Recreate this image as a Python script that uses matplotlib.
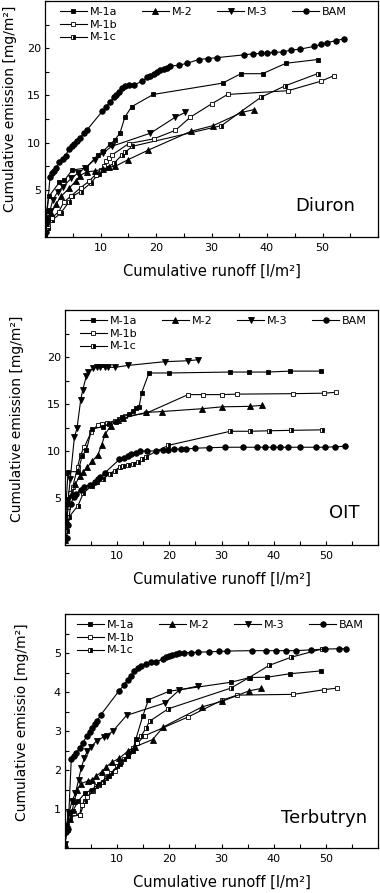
import matplotlib
matplotlib.use("Agg")
import matplotlib.pyplot as plt
from matplotlib.lines import Line2D
from matplotlib.ticker import MultipleLocator

# ---------------- data ----------------
series_names = ["M-1a", "M-2", "M-3", "BAM", "M-1b", "M-1c"]
x_ticks = [10, 20, 30, 40, 50]

# Diuron
diu_m1a_x = [0, 0.3, 0.7, 2.6, 3.5, 4.9, 7.4, 9.5, 10.5, 11.7, 12.6, 13.5, 14.4, 15.6, 19.5, 32, 35.3, 39.2, 43.4, 49.1]
diu_m1a_y = [0.3, 2.8, 4.3, 5.8, 6.0, 7.1, 7.3, 8.7, 9.1, 9.8, 10.3, 11.0, 12.7, 13.8, 15.1, 16.3, 17.3, 17.3, 18.4, 18.8]
diu_m2_x = [0, 0.2, 1.1, 2.0, 2.9, 4.4, 5.5, 6.3, 7.5, 9.0, 10.5, 11.5, 12.7, 15.0, 18.6, 26.3, 30.3, 35.5, 37.7]
diu_m2_y = [0, 1.5, 2.5, 3.5, 4.3, 5.2, 5.9, 6.5, 6.9, 7.0, 7.2, 7.4, 7.5, 8.2, 9.2, 11.2, 11.8, 13.2, 13.5]
diu_m3_x = [0, 0.4, 0.9, 1.4, 2.3, 3.2, 4.7, 6.0, 7.2, 9.0, 10.5, 12.0, 19.0, 23.5, 25.3]
diu_m3_y = [0.2, 1.5, 2.8, 3.9, 4.8, 5.3, 6.2, 6.8, 7.3, 8.2, 8.9, 9.6, 11.0, 12.7, 13.2]
diu_bam_x = [0.1, 0.3, 0.9, 1.2, 1.6, 2.0, 2.5, 3.2, 3.7, 4.3, 4.8, 5.3, 5.8, 6.3, 7.0, 7.5, 10.3, 11.0,
             11.7, 12.4, 12.8, 13.4, 13.9, 14.5, 15.2, 16.0, 17.5, 18.4, 19.0, 19.6, 20.2, 20.8, 21.4, 22.0,
             22.6, 24.1, 25.6, 27.7, 29.3, 31.0, 35.9, 37.4, 38.9, 40.0, 41.2, 42.8, 44.3, 46.0, 48.5, 49.7,
             50.9, 52.4, 53.9]
diu_bam_y = [0.5, 2.0, 6.4, 6.8, 7.0, 7.3, 7.9, 8.3, 8.6, 9.3, 9.6, 9.9, 10.2, 10.5, 11.0, 11.3, 13.3, 13.8,
             14.3, 14.8, 15.0, 15.4, 15.8, 16.0, 16.1, 16.1, 16.5, 16.9, 17.1, 17.3, 17.5, 17.7, 17.8, 17.95,
             18.1, 18.2, 18.4, 18.8, 18.9, 19.0, 19.3, 19.4, 19.45, 19.5, 19.55, 19.6, 19.8, 19.9, 20.2, 20.4,
             20.6, 20.8, 21.0]
diu_m1b_x = [0, 0.5, 1.2, 2.5, 3.4, 4.6, 6.4, 7.9, 9.1, 10.0, 10.6, 11.0, 11.5, 12.1, 15.1, 19.6, 23.5, 26.2, 30.0, 32.9, 43.8, 49.7, 52.1]
diu_m1b_y = [0.2, 1.2, 2.0, 2.7, 3.7, 4.3, 5.2, 5.9, 6.6, 7.1, 7.5, 8.0, 8.4, 8.7, 9.9, 10.4, 11.3, 12.7, 14.1, 15.1, 15.5, 16.5, 17.1]
diu_m1c_x = [0, 0.5, 1.3, 2.8, 4.3, 4.9, 6.4, 8.2, 9.7, 10.9, 12.4, 13.9, 14.5, 15.7, 31.8, 38.9, 43.2, 49.1]
diu_m1c_y = [0.1, 1.0, 1.8, 2.5, 3.7, 4.3, 4.8, 5.7, 6.7, 7.3, 7.8, 8.7, 9.0, 9.6, 11.8, 14.8, 16.0, 17.3]

# OIT
oit_m1a_x = [0, 0.2, 0.6, 2.5, 3.3, 4.1, 5.1, 7.2, 8.5, 9.8, 11.0, 12.3, 13.1, 13.6, 14.2, 14.7, 16.1, 19.9, 31.7, 35.2, 38.9, 43.2, 49.1]
oit_m1a_y = [0.8, 4.5, 7.8, 7.8, 9.5, 10.1, 12.3, 12.6, 12.9, 13.1, 13.6, 13.9, 14.3, 14.6, 14.7, 16.2, 18.3, 18.3, 18.4, 18.4, 18.4, 18.5, 18.5]
oit_m2_x = [0, 0.3, 0.7, 1.4, 2.0, 2.8, 3.5, 4.3, 5.2, 6.3, 7.0, 7.7, 8.8, 10.1, 11.2, 15.5, 18.6, 26.3, 30.1, 35.4, 37.7]
oit_m2_y = [0.5, 2.5, 4.5, 5.5, 6.5, 7.3, 7.8, 8.3, 8.9, 9.6, 10.6, 11.8, 12.7, 13.3, 13.5, 14.1, 14.2, 14.5, 14.7, 14.75, 14.85]
oit_m3_x = [0, 0.2, 0.6, 1.0, 1.8, 2.3, 3.0, 3.4, 4.1, 4.5, 5.4, 6.1, 6.8, 7.6, 8.3, 9.6, 12.0, 19.1, 23.5, 25.4]
oit_m3_y = [0.5, 2.5, 4.8, 7.0, 11.5, 12.4, 15.4, 16.5, 18.0, 18.4, 18.8, 18.9, 18.9, 18.9, 18.9, 18.9, 19.1, 19.5, 19.6, 19.7]
oit_bam_x = [0.3, 0.6, 1.1, 1.7, 2.2, 3.0, 3.7, 4.8, 5.7, 6.3, 6.7, 7.7, 10.4, 11.4, 12.0, 12.6, 13.6, 14.4, 15.8,
             17.4, 18.7, 19.7, 20.9, 22.2, 23.1, 25.0, 27.6, 30.7, 34.2, 36.8, 38.4, 39.9, 41.2, 42.8, 45.0,
             48.2, 49.8, 51.7, 53.6]
oit_bam_y = [0.7, 2.1, 4.4, 5.1, 5.4, 5.9, 6.2, 6.4, 6.7, 7.0, 7.2, 7.7, 9.1, 9.3, 9.5, 9.7, 9.8, 10.0, 10.0,
             10.0, 10.1, 10.14, 10.2, 10.2, 10.2, 10.3, 10.35, 10.4, 10.4, 10.4, 10.4, 10.4, 10.4, 10.4, 10.4,
             10.4, 10.4, 10.45, 10.5]
oit_m1b_x = [0, 0.2, 0.5, 1.0, 1.5, 2.4, 3.0, 3.7, 5.0, 6.3, 7.0, 8.0, 9.5, 10.4, 11.5, 15.5, 23.6, 26.5, 30.1, 33.0, 43.8, 49.7, 52.0]
oit_m1b_y = [0.5, 2.0, 4.0, 5.5, 6.2, 8.3, 9.6, 10.4, 12.0, 12.8, 12.9, 13.0, 13.2, 13.4, 13.7, 14.0, 16.0, 16.0, 16.0, 16.05, 16.1, 16.15, 16.25]
oit_m1c_x = [0, 0.3, 0.8, 2.5, 3.5, 5.1, 6.2, 7.3, 8.6, 9.5, 10.5, 11.1, 12.0, 13.0, 13.9, 14.8, 15.5, 19.8, 31.7, 35.4, 39.1, 43.4, 49.3]
oit_m1c_y = [0.5, 1.5, 3.0, 4.2, 5.5, 6.3, 6.7, 7.0, 7.6, 7.9, 8.3, 8.4, 8.5, 8.65, 8.8, 9.1, 9.4, 10.6, 12.1, 12.1, 12.15, 12.2, 12.25]

# Terbutryn
ter_m1a_x = [0, 0.3, 0.7, 1.5, 2.5, 3.8, 5.2, 6.5, 8.5, 10.5, 12.0, 13.0, 13.6, 14.9, 16.0, 20.0, 31.8, 35.4, 38.8, 43.2, 49.0]
ter_m1a_y = [0.1, 0.6, 0.9, 0.95, 1.2, 1.4, 1.5, 1.65, 1.85, 2.15, 2.35, 2.5, 2.8, 3.38, 3.8, 4.02, 4.25, 4.37, 4.38, 4.47, 4.54]
ter_m2_x = [0, 0.4, 1.0, 1.8, 2.3, 3.1, 4.4, 5.2, 6.0, 7.0, 7.9, 9.0, 10.4, 12.0, 13.5, 16.8, 18.8, 26.3, 30.1, 35.3, 37.6]
ter_m2_y = [0.1, 0.5, 0.75, 1.2, 1.5, 1.65, 1.72, 1.75, 1.85, 1.95, 2.08, 2.2, 2.3, 2.48, 2.6, 2.78, 3.1, 3.62, 3.76, 4.03, 4.09]
ter_m3_x = [0, 0.3, 0.8, 1.3, 2.0, 2.6, 3.1, 3.7, 4.3, 5.0, 6.1, 7.4, 8.0, 9.2, 11.8, 19.2, 21.9, 25.4]
ter_m3_y = [0.1, 0.5, 0.9, 1.2, 1.4, 1.75, 2.05, 2.3, 2.5, 2.6, 2.75, 2.85, 2.88, 3.0, 3.4, 3.72, 4.05, 4.15]
ter_bam_x = [0.25, 0.6, 1.2, 1.7, 2.2, 2.8, 3.4, 4.2, 4.7, 5.2, 5.7, 6.1, 6.9, 10.3, 11.4, 12.0, 12.7, 13.3, 13.9,
             14.6, 15.5, 16.5, 17.5, 18.7, 19.4, 20.0, 20.6, 21.3, 21.9, 22.9, 24.1, 25.4, 27.6, 29.6, 31.1,
             35.9, 38.5, 40.4, 42.3, 44.2, 47.1, 49.9, 52.5, 53.8]
ter_bam_y = [0.4, 0.5, 2.27, 2.36, 2.44, 2.57, 2.7, 2.87, 2.97, 3.08, 3.17, 3.25, 3.42, 4.02, 4.19, 4.31, 4.42,
             4.53, 4.61, 4.67, 4.72, 4.76, 4.78, 4.84, 4.89, 4.93, 4.95, 4.98, 5.0, 5.01, 5.01, 5.02, 5.03,
             5.04, 5.05, 5.06, 5.06, 5.06, 5.06, 5.06, 5.08, 5.1, 5.11, 5.11]
ter_m1b_x = [0, 0.3, 0.8, 1.7, 2.8, 3.2, 4.2, 5.4, 6.6, 8.2, 9.5, 10.8, 12.0, 13.0, 13.8, 15.3, 23.6, 30.1, 33.0, 43.8, 49.7, 52.1]
ter_m1b_y = [0.1, 0.5, 0.8, 0.9, 0.85, 1.1, 1.3, 1.45, 1.62, 1.85, 1.97, 2.2, 2.36, 2.57, 2.68, 2.88, 3.36, 3.79, 3.92, 3.94, 4.06, 4.1]
ter_m1c_x = [0, 0.3, 1.0, 2.9, 3.8, 5.0, 6.0, 7.2, 7.9, 8.9, 10.0, 11.4, 12.7, 13.6, 14.6, 15.5, 16.2, 19.8, 31.8, 35.3, 39.1, 43.3, 49.2]
ter_m1c_y = [0.1, 0.5, 0.8, 0.85, 1.2, 1.45, 1.6, 1.7, 1.8, 1.93, 2.1, 2.27, 2.5, 2.7, 2.87, 3.07, 3.25, 3.57, 4.1, 4.37, 4.68, 4.89, 5.1]

panel_titles = ["Diuron", "OIT", "Terbutryn"]
y_labels = ["Cumulative emission [mg/m²]", "Cumulative emission [mg/m²]", "Cumulative emissio [mg/m²]"]
x_label = "Cumulative runoff [l/m²]"

# ---------------- style ----------------
plt.rcParams['font.family'] = ['DejaVu Sans']
styles = {
    "M-1a": dict(marker='s', ms=3.4, mfc='black', mec='black'),
    "M-2": dict(marker='^', ms=4.0, mfc='black', mec='black'),
    "M-3": dict(marker='v', ms=4.0, mfc='black', mec='black'),
    "BAM": dict(marker='o', ms=4.0, mfc='black', mec='black'),
    "M-1b": dict(marker='s', ms=3.4, mfc='white', mec='black'),
    "M-1c": dict(marker='s', ms=3.4, mfc='black', mec='black', fillstyle='right', markerfacecoloralt='white'),
}

panels = [
    dict(data={"M-1a": (diu_m1a_x, diu_m1a_y), "M-2": (diu_m2_x, diu_m2_y), "M-3": (diu_m3_x, diu_m3_y),
               "BAM": (diu_bam_x, diu_bam_y), "M-1b": (diu_m1b_x, diu_m1b_y), "M-1c": (diu_m1c_x, diu_m1c_y)},
         rect=[45/380, 1-237/893, 333/380, 236/893], ylim=(0, 25), yt=[5, 10, 15, 20], ymin=2.5,
         leg_x=15/333, ylab_x=-0.085, ylab_y=0.545, title_pos=(0.93, 0.13)),
    dict(data={"M-1a": (oit_m1a_x, oit_m1a_y), "M-2": (oit_m2_x, oit_m2_y), "M-3": (oit_m3_x, oit_m3_y),
               "BAM": (oit_bam_x, oit_bam_y), "M-1b": (oit_m1b_x, oit_m1b_y), "M-1c": (oit_m1c_x, oit_m1c_y)},
         rect=[65/380, 1-545/893, 313/380, 235/893], ylim=(0, 25), yt=[5, 10, 15, 20], ymin=2.5,
         leg_x=15/313, ylab_x=-0.13, ylab_y=0.538, title_pos=(0.94, 0.135)),
    dict(data={"M-1a": (ter_m1a_x, ter_m1a_y), "M-2": (ter_m2_x, ter_m2_y), "M-3": (ter_m3_x, ter_m3_y),
               "BAM": (ter_bam_x, ter_bam_y), "M-1b": (ter_m1b_x, ter_m1b_y), "M-1c": (ter_m1c_x, ter_m1c_y)},
         rect=[65/380, 1-848/893, 313/380, 234/893], ylim=(0, 6), yt=[1, 2, 3, 4, 5], ymin=0.5,
         leg_x=12/313, ylab_x=-0.115, ylab_y=0.536, title_pos=(0.965, 0.128)),
]

fig = plt.figure(figsize=(3.8, 8.93), dpi=100)

for p, title, ylab in zip(panels, panel_titles, y_labels):
    ax = fig.add_axes(p["rect"])
    handles = {}
    for name in ["M-1c", "M-1b", "M-2", "M-3", "M-1a", "BAM"]:
        xs, ys = p["data"][name]
        (h,) = ax.plot(xs, ys, color='black', lw=0.8, mew=0.6, label=name, **styles[name])
        handles[name] = h
    ax.set_xlim(0, 60)
    ax.set_ylim(*p["ylim"])
    ax.set_xticks(x_ticks)
    ax.set_yticks(p["yt"])
    ax.xaxis.set_minor_locator(MultipleLocator(5))
    ax.yaxis.set_minor_locator(MultipleLocator(p["ymin"]))
    ax.tick_params(which='both', direction='in', top=False, right=False, length=3, width=0.8,
                   labelsize=8, pad=3)
    ax.tick_params(axis='x', which='major', pad=4)
    for s in ax.spines.values():
        s.set_linewidth(0.9)
    ax.set_xlabel(x_label, fontsize=10.5)
    ax.xaxis.set_label_coords(0.5, -0.115)
    ax.set_ylabel(ylab, fontsize=10)
    ax.yaxis.set_label_coords(p["ylab_x"], p["ylab_y"])
    ax.text(p["title_pos"][0], p["title_pos"][1], title, transform=ax.transAxes,
            ha='right', va='center', fontsize=13)

    blank = Line2D([], [], alpha=0)
    order = [handles["M-1a"], handles["M-1b"], handles["M-1c"],
             handles["M-2"], blank, blank,
             handles["M-3"], blank, blank,
             handles["BAM"], blank, blank]
    labels = ["M-1a", "M-1b", "M-1c", "M-2", "", "", "M-3", "", "", "BAM", "", ""]
    ax.legend(order, labels, ncol=4, loc='upper left', bbox_to_anchor=(p["leg_x"], 0.975),
              frameon=False, fontsize=8, handlelength=2.4, handletextpad=0.3,
              columnspacing=2.2, labelspacing=0.25, borderpad=0, borderaxespad=0)

fig.savefig("out.png", dpi=100, facecolor='white')
